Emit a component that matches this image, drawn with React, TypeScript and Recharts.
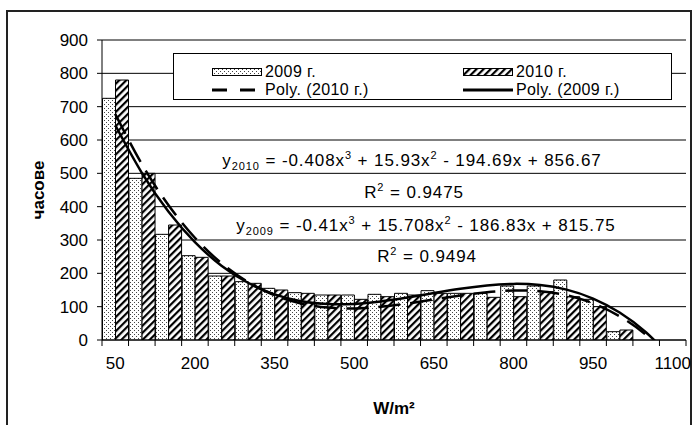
import React from 'react'
import {
  ComposedChart,
  Bar,
  Line,
  XAxis,
  YAxis,
  CartesianGrid,
  Legend,
} from 'recharts'

const categories = ['50', '100', '150', '200', '250', '300', '350', '400', '450', '500', '550', '600', '650', '700', '750', '800', '850', '900', '950', '1000', '1050', '1100']
const hours2009 = [725, 485, 317, 253, 192, 175, 155, 142, 135, 135, 137, 140, 148, 140, 140, 162, 162, 180, 122, 25, null, null]
const hours2010 = [780, 500, 345, 248, 192, 170, 150, 140, 135, 122, 130, 135, 140, 140, 128, 130, 145, 130, 100, 30, null, null]
const yTicks = [0, 100, 200, 300, 400, 500, 600, 700, 800, 900]

// trendline coefficients as printed on the chart (x = category number, from 1)
const poly2010Coef = [-0.408, 15.93, -194.69, 856.67]
const poly2009Coef = [-0.41, 15.708, -186.83, 815.75]
const r2010 = 0.9475
const r2009 = 0.9494

const FONT = '"Liberation Sans", Arial, sans-serif'
const TICK_SIZE = 6
const TICK_MARGIN = 11

const cubic = (c: number[], x: number) => ((c[0] * x + c[1]) * x + c[2]) * x + c[3]

const data = categories.map((cat, i) => ({
  cat,
  y2009: hours2009[i],
  y2010: hours2010[i],
  poly2010: cubic(poly2010Coef, i + 1),
  poly2009: cubic(poly2009Coef, i + 1),
}))

const legendOrder = ['y2009', 'y2010', 'poly2010', 'poly2009']

function XTick(props: any) {
  const { x, y, payload, index } = props
  const half = payload && payload.offset ? payload.offset : 13.28
  const y0 = y - TICK_SIZE - TICK_MARGIN
  const last = index === categories.length - 1
  return (
    <g>
      <line x1={x - half} x2={x - half} y1={y0} y2={y0 + TICK_SIZE} stroke="#000" />
      {last && <line x1={x + half} x2={x + half} y1={y0} y2={y0 + TICK_SIZE} stroke="#000" />}
      {index % 3 === 0 && (
        <text x={x} y={y} dy="0.71em" textAnchor="middle" fill="#000" fontSize={17} fontFamily={FONT}>
          {payload.value}
        </text>
      )}
    </g>
  )
}

function Swatch({ entry }: { entry: any }) {
  const key = entry.dataKey
  return (
    <svg width={50} height={10} style={{ display: 'block' }}>
      {key === 'y2009' || key === 'y2010' ? (
        <rect x={0.5} y={1.5} width={49} height={7} fill={key === 'y2009' ? 'url(#dots2009)' : 'url(#hatch2010)'} stroke="#000" />
      ) : (
        <line x1={0} x2={50} y1={5} y2={5} stroke="#000" strokeWidth={3} strokeDasharray={key === 'poly2010' ? '15 13' : undefined} />
      )}
    </svg>
  )
}

function LegendBox(props: any) {
  const items = legendOrder
    .map((k) => (props.payload || []).find((p: any) => p.dataKey === k))
    .filter(Boolean)
  return (
    <div
      style={{
        border: '1px solid #000',
        background: '#fff',
        width: 497,
        height: 36,
        boxSizing: 'content-box',
        display: 'grid',
        gridTemplateColumns: '251px 246px',
        gridTemplateRows: '18px 18px',
        paddingTop: 9,
        fontFamily: FONT,
        fontSize: 16,
        letterSpacing: '0.4px',
        color: '#000',
      }}
    >
      {items.map((entry: any) => (
        <div key={entry.dataKey} style={{ display: 'flex', alignItems: 'center', paddingLeft: 38, lineHeight: '18px', height: 18, whiteSpace: 'nowrap' }}>
          <Swatch entry={entry} />
          <span style={{ marginLeft: 3 }}>{entry.value}</span>
        </div>
      ))}
    </div>
  )
}

const eqStyle: React.CSSProperties = {
  position: 'absolute',
  transform: 'translate(-50%, -50%)',
  whiteSpace: 'nowrap',
  fontFamily: FONT,
  fontSize: 17,
  letterSpacing: '0.9px',
  lineHeight: 1,
  color: '#000',
}
const supStyle: React.CSSProperties = { fontSize: 11, verticalAlign: '7px', lineHeight: 0 }
const subStyle: React.CSSProperties = { fontSize: 11, verticalAlign: '-4px', lineHeight: 0 }

const num = (v: number) => String(Math.abs(v))
const sign = (v: number) => (v < 0 ? ' - ' : ' + ')

function Equation({ year, coef, left, top }: { year: string; coef: number[]; left: number; top: number }) {
  return (
    <div style={{ ...eqStyle, left, top }}>
      y<span style={subStyle}>{year}</span> = {coef[0] < 0 ? '-' : ''}{num(coef[0])}x<span style={supStyle}>3</span>
      {sign(coef[1])}{num(coef[1])}x<span style={supStyle}>2</span>
      {sign(coef[2])}{num(coef[2])}x{sign(coef[3])}{num(coef[3])}
    </div>
  )
}

function RSquared({ value, left, top }: { value: number; left: number; top: number }) {
  return (
    <div style={{ ...eqStyle, left, top }}>
      R<span style={supStyle}>2</span> = {value}
    </div>
  )
}

export default function App() {
  return (
    <div style={{ position: 'absolute', left: 0, top: 0, width: 695, height: 425, background: '#fff', fontFamily: FONT }}>
      <div style={{ position: 'absolute', left: 6, top: 10, width: 686, height: 430, border: '2px solid #222', boxSizing: 'border-box' }} />
      <ComposedChart
        width={695}
        height={425}
        data={data}
        margin={{ top: 40, right: 9, bottom: 0, left: 0 }}
        barCategoryGap={0.5}
        barGap={0}
      >
        <defs>
          <pattern id="dots2009" width="4" height="4" patternUnits="userSpaceOnUse">
            <rect width="4" height="4" fill="#fff" />
            <rect x="0" y="0" width="1" height="1" fill="#444" />
            <rect x="2" y="2" width="1" height="1" fill="#444" />
          </pattern>
          <pattern id="hatch2010" width="5" height="5" patternUnits="userSpaceOnUse" patternTransform="rotate(45)">
            <rect width="5" height="5" fill="#fff" />
            <rect width="2.2" height="5" fill="#000" />
          </pattern>
        </defs>
        <CartesianGrid vertical={false} stroke="#000" strokeWidth={1} />
        <XAxis
          dataKey="cat"
          interval={0}
          height={85}
          tickLine={false}
          tickSize={TICK_SIZE}
          tickMargin={TICK_MARGIN}
          axisLine={{ stroke: '#000' }}
          tick={<XTick />}
          label={{
            value: 'W/m²',
            position: 'insideBottom',
            offset: 11,
            style: { fontWeight: 'bold', fontSize: 17, fill: '#000', fontFamily: FONT },
          }}
        />
        <YAxis
          domain={[0, 900]}
          ticks={yTicks}
          allowDataOverflow
          width={102}
          tickSize={5}
          tickMargin={9}
          tick={{ fill: '#000', fontSize: 17, fontFamily: FONT }}
          tickLine={{ stroke: '#000' }}
          axisLine={{ stroke: '#000' }}
          label={{
            value: 'часове',
            angle: -90,
            position: 'insideLeft',
            offset: 38,
            style: { textAnchor: 'middle', fontWeight: 'bold', fontSize: 17, fill: '#000', fontFamily: FONT },
          }}
        />
        <YAxis yAxisId="r" orientation="right" width={0} domain={[0, 900]} tick={false} tickLine={false} axisLine={{ stroke: '#000' }} />
        <Legend
          layout="vertical"
          align="center"
          verticalAlign="middle"
          content={<LegendBox />}
          wrapperStyle={{ left: 173, top: 53, width: 499, height: 47 }}
        />
        <Bar dataKey="y2009" name="2009 г." fill="url(#dots2009)" stroke="#000" strokeWidth={1} isAnimationActive={false} />
        <Bar dataKey="y2010" name="2010 г." fill="url(#hatch2010)" stroke="#000" strokeWidth={1} isAnimationActive={false} />
        <Line
          dataKey="poly2010"
          name="Poly. (2010 г.)"
          type="natural"
          stroke="#000"
          strokeWidth={2.5}
          strokeDasharray="22 10"
          dot={false}
          activeDot={false}
          isAnimationActive={false}
        />
        <Line
          dataKey="poly2009"
          name="Poly. (2009 г.)"
          type="natural"
          stroke="#000"
          strokeWidth={2.5}
          dot={false}
          activeDot={false}
          isAnimationActive={false}
        />
      </ComposedChart>
      <Equation year="2010" coef={poly2010Coef} left={412} top={160} />
      <RSquared value={r2010} left={414} top={192} />
      <Equation year="2009" coef={poly2009Coef} left={426} top={225} />
      <RSquared value={r2009} left={427} top={256} />
    </div>
  )
}
